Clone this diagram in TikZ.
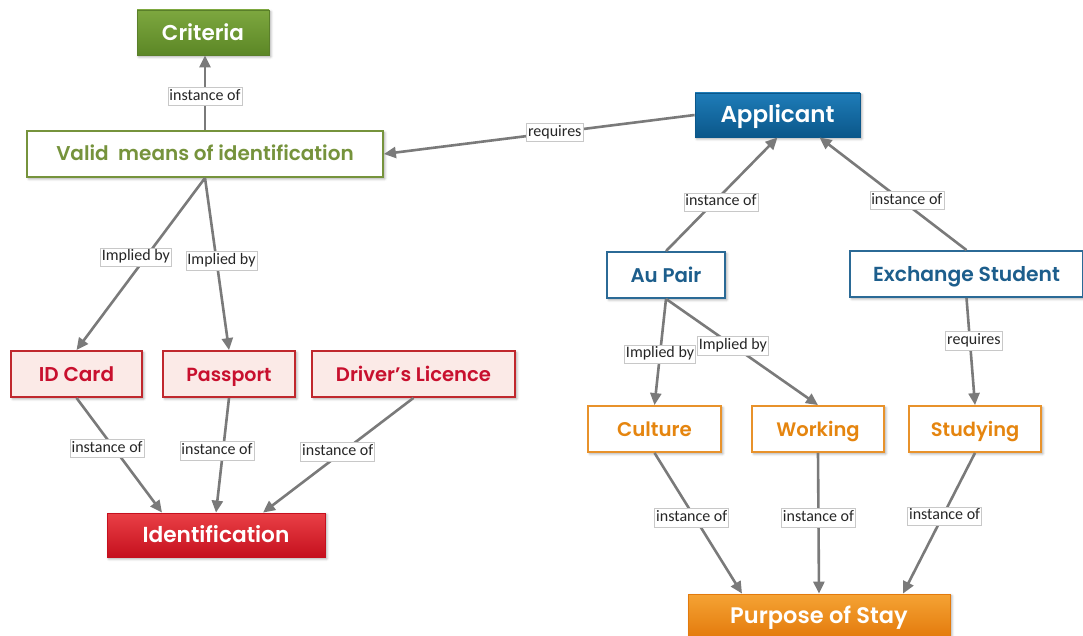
\documentclass[tikz,border=0pt]{standalone}
\usepackage{fontspec}
\setmainfont{Carlito}
\newfontfamily\headfont{Poppins SemiBold}
\usetikzlibrary{arrows.meta,shadows.blur}

% palette
\definecolor{grnT}{HTML}{7DA73F}
\definecolor{grnB}{HTML}{5C8726}
\definecolor{grnD}{HTML}{5A7F2A}
\definecolor{grnL}{HTML}{76933C}
\definecolor{bluT}{HTML}{1E7CB8}
\definecolor{bluB}{HTML}{0B578A}
\definecolor{bluL}{HTML}{2B6A96}
\definecolor{bluX}{HTML}{1D5E8C}
\definecolor{redT}{HTML}{EA4046}
\definecolor{redB}{HTML}{C5101E}
\definecolor{redL}{HTML}{C0282E}
\definecolor{redX}{HTML}{C8102E}
\definecolor{pink}{HTML}{FBEAE7}
\definecolor{orgT}{HTML}{F5A334}
\definecolor{orgB}{HTML}{E37A0C}
\definecolor{orgL}{HTML}{E8922B}
\definecolor{orgX}{HTML}{E5850F}
\definecolor{edgeC}{HTML}{7A7A7A}
\definecolor{lblC}{HTML}{C8C8C8}

\begin{document}
\begin{tikzpicture}[x=1pt,y=-1pt,
  box/.style={rectangle, inner sep=0pt, minimum height=46pt,
    text height=14pt, text depth=0pt,
    blur shadow={shadow xshift=1.8pt, shadow yshift=-1.8pt,
      shadow blur radius=2.5pt, shadow opacity=35}},
  fs/.style={font=\headfont\fontsize{#1}{#1}\selectfont},
  big/.style={text height=15.5pt},
  solidgreen/.style={box, draw=grnD, line width=0.8pt, top color=grnT, bottom color=grnB, text=white},
  linegreen/.style={box, draw=grnL, line width=1.8pt, fill=white, text=grnL},
  solidblue/.style={box, draw=bluB, line width=0.8pt, top color=bluT, bottom color=bluB, text=white},
  lineblue/.style={box, draw=bluL, line width=1.8pt, fill=white, text=bluX},
  solidred/.style={box, draw=redB, line width=0.8pt, top color=redT, bottom color=redB, text=white},
  linered/.style={box, draw=redL, line width=1.8pt, fill=pink, text=redX},
  solidorange/.style={box, draw=orgB, line width=0.8pt, top color=orgT, bottom color=orgB, text=white},
  lineorange/.style={box, draw=orgL, line width=1.8pt, fill=white, text=orgX},
  edge/.style={draw=edgeC, line width=2.6pt, -{Triangle[length=12pt,width=11pt]}},
  lbl/.style={fill=white, draw=lblC, line width=0.6pt, inner xsep=1.5pt, inner ysep=2pt,
    text=black!85, font=\fontsize{16}{16}\selectfont, text height=11pt, text depth=3.5pt}
]
\useasboundingbox (0,0) rectangle (1083,636);

% left cluster: identification
\node[solidgreen, fs=21.5, big, minimum width=132pt, minimum height=45pt] (criteria) at (203,32.5) {Criteria};
\node[linegreen, fs=20, minimum width=356pt] (valid) at (205,154) {Valid\ \ means of identification};
\node[linered, fs=20, minimum width=131pt] (idcard) at (76.5,374) {ID Card};
\node[linered, fs=19, minimum width=132pt] (passport) at (229,374) {Passport};
\node[linered, fs=19.6, minimum width=203pt] (driver) at (413.5,374) {Driver’s Licence};
\node[solidred, fs=21.7, big, minimum width=218pt, minimum height=44pt] (ident) at (216,535) {Identification};

% right cluster: applicant
\node[solidblue, fs=23, big, minimum width=165pt, minimum height=44pt] (applicant) at (777.5,115) {Applicant};
\node[lineblue, fs=19.8, minimum width=118pt] (aupair) at (666,275) {Au Pair};
\node[lineblue, fs=20.3, minimum width=233pt] (exchange) at (966.5,274) {Exchange Student};
\node[lineorange, fs=19.8, minimum width=133pt] (culture) at (654.5,429) {Culture};
\node[lineorange, fs=19.5, minimum width=132pt] (working) at (818,429) {Working};
\node[lineorange, fs=19.4, minimum width=132pt] (studying) at (975,429) {Studying};
\node[solidorange, fs=22.5, big, minimum width=262pt, minimum height=44pt] (purpose) at (819,616) {Purpose of Stay};

% connectors, left
\draw[edge] (valid.north) -- node[lbl, pos=0.45] {instance of} (valid.north |- criteria.south);
\draw[edge] (applicant.west) -- node[lbl, pos=0.45] {requires} (valid.east);
\draw[edge] (valid.south) -- node[lbl, pos=0.46, xshift=-10pt] {Implied by} (idcard.north);
\draw[edge] (valid.south) -- node[lbl, pos=0.48, xshift=5pt] {Implied by} (passport.north);
\draw[edge] (idcard.south) -- node[lbl, pos=0.44, xshift=-7pt] {instance of} ([xshift=-54pt]ident.north);
\draw[edge] (passport.south) -- node[lbl, pos=0.46, xshift=-6pt] {instance of} (ident.north);
\draw[edge] (driver.south) -- node[lbl, pos=0.47, xshift=-5pt] {instance of} ([xshift=47pt]ident.north);

% connectors, right
\draw[edge] (aupair.north) -- node[lbl, pos=0.43, xshift=7pt] {instance of} (applicant.south);
\draw[edge] (exchange.north) -- node[lbl, pos=0.44, xshift=5pt] {instance of} ([xshift=42pt]applicant.south);
\draw[edge] (aupair.south) -- node[lbl, pos=0.52] {Implied by} (culture.north);
\draw[edge] (aupair.south) -- node[lbl, pos=0.44] {Implied by} (working.north);
\draw[edge] (exchange.south) -- node[lbl, pos=0.40, xshift=4pt] {requires} (studying.north);
\draw[edge] (culture.south) -- node[lbl, pos=0.46, xshift=-3pt] {instance of} ([xshift=-77pt]purpose.north);
\draw[edge] (working.south) -- node[lbl, pos=0.46] {instance of} (purpose.north);
\draw[edge] (studying.south) -- node[lbl, pos=0.45, xshift=2pt] {instance of} ([xshift=84pt]purpose.north);
\end{tikzpicture}
\end{document}
